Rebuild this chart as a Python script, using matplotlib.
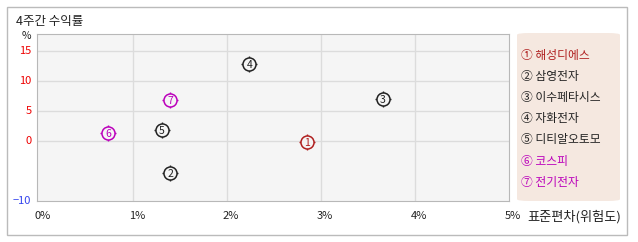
import matplotlib
matplotlib.use("Agg")
import matplotlib.pyplot as plt
from matplotlib.patches import FancyBboxPatch, Rectangle

plt.rcParams['font.family'] = ['Noto Sans CJK KR', 'DejaVu Sans']

names = ["해성디에스", "삼영전자", "이수페타시스", "자화전자", "디티알오토모", "코스피", "전기전자"]
marks = ["①", "②", "③", "④", "⑤", "⑥", "⑦"]
risk = [2.85, 1.40, 3.66, 2.24, 1.31, 0.74, 1.40]      # 표준편차 (%)
ret = [-0.2, -5.4, 6.9, 12.8, 1.8, 1.4, 6.8]           # 4주간 수익률 (%)
colors = ["#b02020", "#222222", "#222222", "#222222", "#222222", "#bb00bb", "#bb00bb"]

yticks = [15, 10, 5, 0, -10]
ytick_colors = ["#ee0000", "#ee0000", "#ee0000", "#ee0000", "#3344ee"]
xticks = [0, 1, 2, 3, 4, 5]

W, H = 638, 242
fig = plt.figure(figsize=(W / 100, H / 100), dpi=100)
fig.patch.set_facecolor("white")

# outer frame
fig.patches.append(Rectangle((6.5 / W, 1 - 235 / H), 620 / W, 228 / H,
                             transform=fig.transFigure, fill=False,
                             edgecolor="#bbbbbb", lw=1))

ax = fig.add_axes([37 / W, 1 - 201 / H, 472 / W, 167 / H])
ax.set_facecolor("#f5f5f5")
ax.set_xlim(-0.017, 5.0)
ax.set_ylim(-10, 17.8)
for s in ax.spines.values():
    s.set_color("#b8b8b8")
for gx in [1, 2, 3, 4]:
    ax.axvline(gx, color="#dcdcdc", lw=1, zorder=1)
for gy in [15, 10, 5, 0]:
    ax.axhline(gy, color="#dcdcdc", lw=1, zorder=1)
ax.set_xticks([])
ax.set_yticks([])

for yv, c in zip(yticks, ytick_colors):
    ax.annotate(str(yv).replace("-", "−"), (0, yv), xycoords=("axes fraction", "data"),
                xytext=(-4, 0), textcoords="offset points", ha="right", va="center",
                fontsize=8, color=c)
for xv in xticks:
    ax.annotate(f"{xv}%", (xv, 0), xycoords=("data", "axes fraction"),
                xytext=(3, -11), textcoords="offset points", ha="center", va="center",
                fontsize=8, color="#222222")

for i, (x, y, c) in enumerate(zip(risk, ret, colors)):
    ax.plot(x, y, marker="+", ms=11.5, mew=1, color=c, zorder=3)
    ax.plot(x, y, marker="o", ms=9.4, mfc="#f5f5f5", mec=c, mew=1.1, zorder=4)
    ax.text(x, y, str(i + 1), ha="center", va="center_baseline",
            fontsize=7.5, color=c, zorder=5)

fig.text(16 / W, 1 - 21 / H, "4주간 수익률", fontsize=9, va="center", color="#222222")
fig.text(22 / W, 1 - 36 / H, "%", fontsize=7.5, va="center", color="#222222")
fig.text(527 / W, 1 - 217 / H, "표준편차(위험도)", fontsize=9.5, va="center", color="#222222")

# legend box
fig.patches.append(FancyBboxPatch((517 / W, 1 - 201 / H), 103 / W, 168 / H,
                                  boxstyle="round,pad=0,rounding_size=0.02",
                                  transform=fig.transFigure, facecolor="#f5e8e0",
                                  edgecolor="none", mutation_aspect=H / W))
for i, (m, n, c) in enumerate(zip(marks, names, colors)):
    fig.text(521 / W, 1 - (55.5 + 21.1 * i) / H, f"{m} {n}", fontsize=8.5, va="center", color=c)

fig.savefig("out.png", dpi=100)
